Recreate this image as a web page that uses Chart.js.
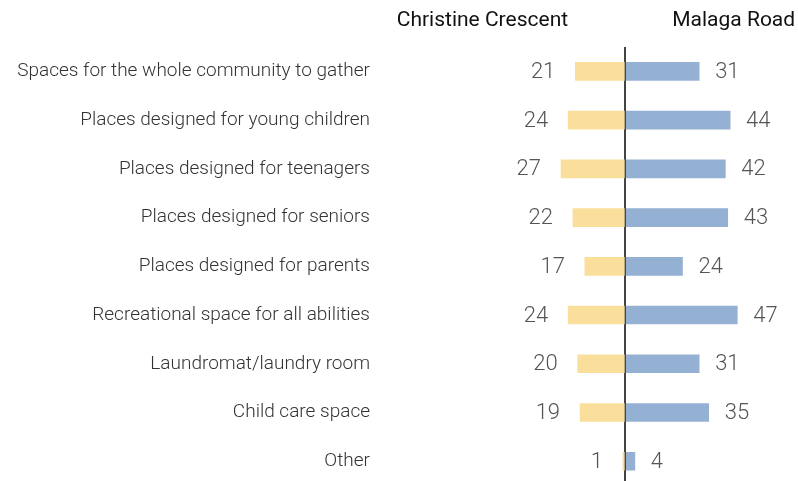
<!DOCTYPE html>
<html>
<head>
<meta charset="utf-8">
<script src="https://cdn.jsdelivr.net/npm/chart.js@4/dist/chart.umd.min.js"></script>
<style>
  html, body { margin: 0; padding: 0; background: #fff; overflow: hidden; }
  #wrap { width: 798px; height: 499px; position: relative; }
</style>
</head>
<body>
<div id="wrap"><canvas id="chart"></canvas></div>
<script>
const categories = [
  'Spaces for the whole community to gather',
  'Places designed for young children',
  'Places designed for teenagers',
  'Places designed for seniors',
  'Places designed for parents',
  'Recreational space for all abilities',
  'Laundromat/laundry room',
  'Child care space',
  'Other'
];
const christineCrescent = [21, 24, 27, 22, 17, 24, 20, 19, 1];
const malagaRoad = [31, 44, 42, 43, 24, 47, 31, 35, 4];
const seriesNames = ['Christine Crescent', 'Malaga Road'];

const YELLOW = '#f9df9b';
const BLUE = '#94b0d3';
const FONT = 'Roboto, "Open Sans", sans-serif';

// Value labels beside each bar, plus the two column headings
const labelsPlugin = {
  id: 'valueLabels',
  afterDatasetsDraw(chart) {
    const ctx = chart.ctx;
    ctx.save();
    ctx.font = '300 22px ' + FONT;
    ctx.fillStyle = '#555';
    ctx.textBaseline = 'middle';
    chart.data.datasets.forEach((ds, di) => {
      const meta = chart.getDatasetMeta(di);
      meta.data.forEach((bar, i) => {
        const raw = di === 0 ? christineCrescent[i] : malagaRoad[i];
        if (di === 0) {
          ctx.textAlign = 'right';
          ctx.fillText(String(raw), bar.x - 20, bar.y + 1);
        } else {
          ctx.textAlign = 'left';
          ctx.fillText(String(raw), bar.x + 16, bar.y + 1);
        }
      });
    });
    const xs = chart.scales.x;
    ctx.font = '400 21px ' + FONT;
    ctx.fillStyle = '#111';
    ctx.textAlign = 'center';
    ctx.fillText(seriesNames[0], xs.getPixelForValue(-60), 21);
    ctx.fillText(seriesNames[1], xs.getPixelForValue(45.5), 21);
    ctx.restore();
  }
};

new Chart(document.getElementById('chart'), {
  type: 'bar',
  data: {
    labels: categories,
    datasets: [
      {
        label: seriesNames[0],
        data: christineCrescent.map(v => -v),
        backgroundColor: YELLOW,
        barThickness: 18,
        grouped: false
      },
      {
        label: seriesNames[1],
        data: malagaRoad,
        backgroundColor: BLUE,
        barThickness: 18,
        grouped: false
      }
    ]
  },
  options: {
    indexAxis: 'y',
    responsive: true,
    maintainAspectRatio: false,
    animation: false,
    layout: { padding: { top: 47, left: 0, right: 0, bottom: 0 } },
    plugins: {
      legend: { display: false },
      tooltip: { enabled: false }
    },
    scales: {
      x: {
        min: -103,
        max: 72.5,
        border: { display: false },
        ticks: { display: false },
        afterBuildTicks(scale) { scale.ticks = [{ value: 0 }]; },
        afterFit(scale) { scale.height = 0; },
        grid: {
          color: '#444',
          lineWidth: 2,
          drawTicks: false
        }
      },
      y: {
        border: { display: false },
        grid: { display: false },
        afterFit(scale) { scale.width = 380; },
        ticks: {
          padding: 2,
          color: '#333',
          font: { family: FONT, size: 19, weight: '300' }
        }
      }
    }
  },
  plugins: [labelsPlugin]
});
</script>
</body>
</html>
